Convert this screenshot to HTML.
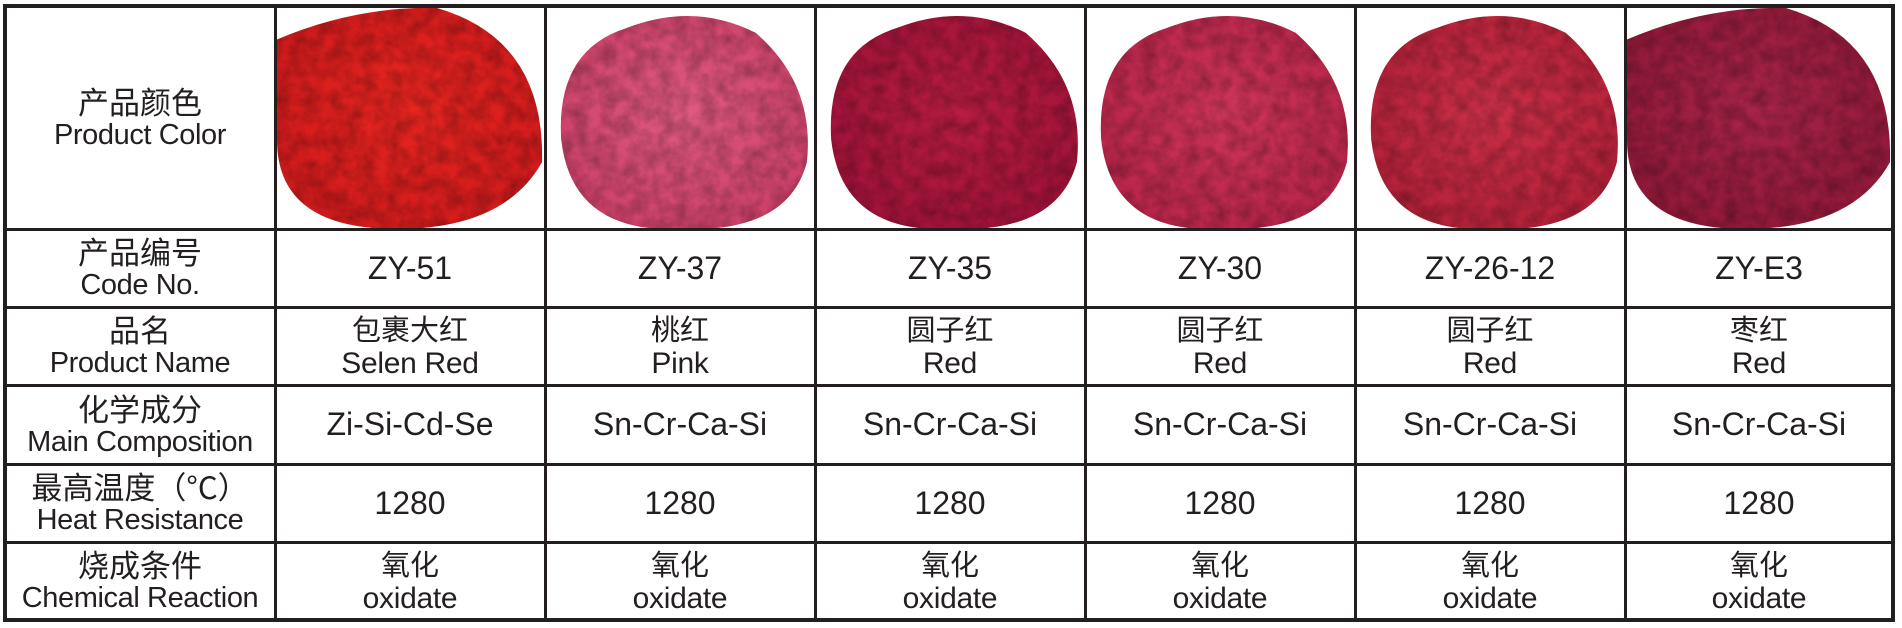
<!DOCTYPE html>
<html><head><meta charset="utf-8">
<style>
html,body{margin:0;padding:0;background:#fff;}
body{width:1902px;height:628px;position:relative;overflow:hidden;font-family:"Liberation Sans","Noto Sans CJK SC",sans-serif;color:#231f20;}
.cell{position:absolute;display:flex;flex-direction:column;align-items:center;justify-content:center;text-align:center;line-height:35px;}
.en{font-size:30px;letter-spacing:-0.3px;}
.lab .en{font-size:29px;letter-spacing:-0.4px;}
.zh{font-size:29px;font-family:"Noto Sans CJK SC",sans-serif;}
.lab .zh{font-size:31px;}
.big{font-size:32px;}
.hl{position:absolute;background:#231f20;}
svg{position:absolute;}
</style></head><body>
<div id="grid"></div>
<script>
const colX=[5,275,545,815,1085,1355,1625,1893];
const rowY=[6,229,307,385,464,542,620];
const codes=["ZY-51","ZY-37","ZY-35","ZY-30","ZY-26-12","ZY-E3"];
const namesZh=["包裹大红","桃红","圆子红","圆子红","圆子红","枣红"];
const namesEn=["Selen Red","Pink","Red","Red","Red","Red"];
const comps=["Zi-Si-Cd-Se","Sn-Cr-Ca-Si","Sn-Cr-Ca-Si","Sn-Cr-Ca-Si","Sn-Cr-Ca-Si","Sn-Cr-Ca-Si"];
const temps=["1280","1280","1280","1280","1280","1280"];
const colors=[["#e8251f","#d01a1c"],["#e05a80","#cc4068"],["#b81c42","#a01238"],["#d0355a","#b8244a"],["#cc3048","#b42038"],["#a82448","#901838"]];
const labels=[["产品颜色","Product Color"],["产品编号","Code No."],["品名","Product Name"],["化学成分","Main Composition"],["最高温度（°C）","Heat Resistance"],["烧成条件","Chemical Reaction"]];
const g=document.getElementById('grid');
function cell(c,r,html,name,cls){
  const d=document.createElement('div');d.className='cell'+(cls?' '+cls:'');
  d.style.left=colX[c]+'px';d.style.top=rowY[r]+'px';
  d.style.width=(colX[c+1]-colX[c])+'px';d.style.height=(rowY[r+1]-rowY[r])+'px';
  d.innerHTML=html;
  
  
  g.appendChild(d);
}
labels.forEach((l,r)=>cell(0,r,'<div class="zh">'+l[0]+'</div><div class="en">'+l[1]+'</div>','row-label-'+r,'lab'));
for(let i=0;i<6;i++){
  const c=i+1;
  const w=colX[c+1]-colX[c], h=rowY[1]-rowY[0];
  const s=document.createElementNS('http://www.w3.org/2000/svg','svg');
  s.setAttribute('width',w);s.setAttribute('height',h);
  s.style.left=colX[c]+'px';s.style.top=rowY[0]+'px';
  
  
  const [c1,c2]=colors[i];
  let d=`M${w*0.06} ${h*0.6} Q${w*0.04} ${h*0.2} ${w*0.3} ${h*0.1} Q${w*0.55} ${h*-0.02} ${w*0.78} ${h*0.12} Q${w*1.0} ${h*0.35} ${w*0.97} ${h*0.7} Q${w*0.9} ${h*1.02} ${w*0.5} ${h} Q${w*0.1} ${h*1.02} ${w*0.06} ${h*0.6}Z`;
  if(i===0||i===5){d=`M2 ${h*0.15} Q${w*0.3} 0 ${w*0.6} 2 Q${w} ${h*0.15} ${w-3} ${h*0.7} Q${w*0.85} ${h} ${w*0.45} ${h} Q2 ${h} 2 ${h*0.6}Z`;}
  s.innerHTML=`<defs><radialGradient id="g${i}" cx="50%" cy="45%" r="60%"><stop offset="0" stop-color="${c1}"/><stop offset="1" stop-color="${c2}"/></radialGradient>
  <filter id="f${i}"><feTurbulence type="fractalNoise" baseFrequency="0.07" numOctaves="3" seed="${i+3}"/><feColorMatrix type="matrix" values="0 0 0 0 0 0 0 0 0 0 0 0 0 0 0 0.45 0 0 0 -0.12"/><feComposite in2="SourceGraphic" operator="in"/></filter></defs>
  <path d="${d}" fill="url(#g${i})"/><path d="${d}" fill="#400010" filter="url(#f${i})"/>`;
  g.appendChild(s);
  cell(c,1,'<div class="big">'+codes[i]+'</div>','code-'+codes[i].toLowerCase());
  cell(c,2,'<div class="zh">'+namesZh[i]+'</div><div class="en">'+namesEn[i]+'</div>','name-'+codes[i].toLowerCase());
  cell(c,3,'<div class="big">'+comps[i]+'</div>','composition-'+codes[i].toLowerCase());
  cell(c,4,'<div class="big">'+temps[i]+'</div>','temperature-'+codes[i].toLowerCase());
  cell(c,5,'<div class="zh">氧化</div><div class="en">oxidate</div>','reaction-'+codes[i].toLowerCase());
}
function line(x,y,w,h,name){
  const d=document.createElement('div');d.className='hl';
  d.style.left=x+'px';d.style.top=y+'px';d.style.width=w+'px';d.style.height=h+'px';
  
  
  g.appendChild(d);
}
rowY.forEach((y,k)=>{const t=(k===0||k===rowY.length-1)?4:3;line(colX[0]-2,y-Math.floor(t/2),colX[7]-colX[0]+4,t,'row-border');});
colX.forEach((x,k)=>{const t=(k===0||k===colX.length-1)?4:3;line(x-Math.floor(t/2),rowY[0]-2,t,rowY[6]-rowY[0]+4,'col-border');});
</script>
</body></html>
